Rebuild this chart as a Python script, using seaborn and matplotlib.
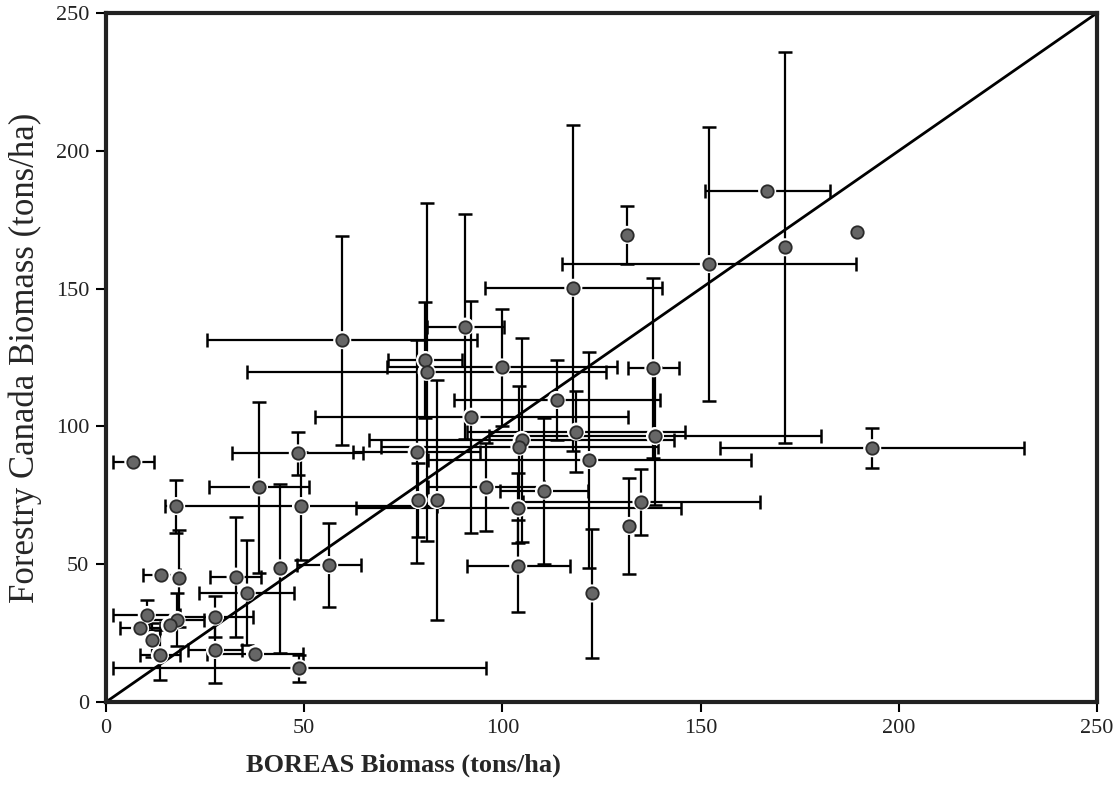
import pandas as pd
import seaborn as sns
import matplotlib.pyplot as plt

# values (tons/ha), error = +/- 1 SD
boreas = [6.9, 48.4, 38.6, 17.7, 49.2, 18.4, 14.0, 32.7, 43.9, 56.3,
          35.5, 27.5, 17.8, 16.1, 10.3, 8.6, 11.5, 13.6, 27.5, 37.6,
          48.8, 59.6, 117.9, 90.7, 80.5, 80.9, 99.8, 138.1, 113.7, 92.2,
          118.6, 138.5, 104.9, 104.3, 78.4, 121.9, 95.9, 78.8, 83.4, 104.0,
          110.5, 135.1, 132.0, 104.0, 122.5, 166.8, 131.4, 189.5, 171.3, 152.1,
          193.3]
forestry = [87.2, 90.2, 77.9, 71.1, 71.1, 44.9, 46.1, 45.5, 48.5, 49.7,
            39.7, 31.0, 29.8, 27.9, 31.6, 26.7, 22.5, 17.0, 18.9, 17.4,
            12.2, 131.3, 150.3, 136.2, 124.1, 119.8, 121.4, 121.1, 109.6, 103.5,
            98.1, 96.5, 95.1, 92.6, 90.8, 87.8, 77.9, 73.3, 73.3, 70.3,
            76.7, 72.7, 63.9, 49.5, 39.4, 185.5, 169.5, 170.6, 165.0, 158.9,
            92.1]
boreas_sd = [5.1, 16.5, 12.7, 0, 34.3, 0, 4.6, 6.5, 0, 8,
             12, 9.7, 7, 0, 8.5, 5.1, 0, 5, 6.7, 12,
             47, 34.1, 22.3, 9.6, 9.3, 45.3, 29, 6.5, 26, 39.5,
             27.5, 41.8, 38.5, 35, 16, 40.7, 14.6, 0, 0, 41,
             11.1, 30, 0, 13, 0, 15.8, 0, 0, 0, 37,
             38.3]
forestry_sd = [0, 7.9, 31, 9.6, 19.6, 17.5, 0, 21.8, 30.7, 15.4,
               19, 7.3, 9.6, 0, 5.4, 0, 6, 9, 12, 0,
               4.8, 37.9, 59.1, 40.8, 21.2, 61.4, 21.1, 32.6, 14.5, 42,
               14.8, 25, 37, 22, 40.5, 39.3, 16, 13.3, 43.5, 12.7,
               26.5, 12, 17.3, 16.7, 23.5, 0, 10.6, 0, 71, 49.6,
               7.3]

df = pd.DataFrame({"boreas": boreas, "forestry": forestry,
                   "boreas_sd": boreas_sd, "forestry_sd": forestry_sd})

sns.set_style("ticks")
plt.rcParams['font.family'] = ['Liberation Serif', 'DejaVu Serif']

fig = plt.figure(figsize=(11.19, 7.88), dpi=100)
ax = fig.add_axes([0.0947, 0.1091, 0.8856, 0.8744])

# 1:1 line
ax.plot([0, 250], [0, 250], color="black", lw=2, zorder=2)

# horizontal and vertical error bars
xb = df[df.boreas_sd > 0]
ax.errorbar(xb.boreas, xb.forestry, xerr=xb.boreas_sd, fmt="none",
            ecolor="black", elinewidth=1.6, capsize=5, capthick=1.8, zorder=1)
yb = df[df.forestry_sd > 0]
ax.errorbar(yb.boreas, yb.forestry, yerr=yb.forestry_sd, fmt="none",
            ecolor="black", elinewidth=1.6, capsize=5, capthick=1.8, zorder=1)

# white halo then grey dots
sns.scatterplot(data=df, x="boreas", y="forestry", s=170, color="white",
                edgecolor="none", ax=ax, zorder=3)
sns.scatterplot(data=df, x="boreas", y="forestry", s=80, color="#666666",
                edgecolor="#2a2a2a", linewidth=1.3, ax=ax, zorder=4)

ax.set_xlim(0, 250)
ax.set_ylim(0, 250)
ax.set_xticks(range(0, 251, 50))
ax.set_yticks(range(0, 251, 50))
ax.tick_params(labelsize=16, length=7, width=1.5, pad=5, color="black",
               labelcolor="#222222")
for s in ax.spines.values():
    s.set_linewidth(3)
    s.set_color("#222222")

ax.set_xlabel("BOREAS Biomass (tons/ha)", fontsize=19, fontweight="bold")
ax.xaxis.set_label_coords(0.30, -0.075)
ax.set_ylabel("Forestry Canada Biomass (tons/ha)", fontsize=25)
ax.yaxis.set_label_coords(-0.065, 0.5)

fig.savefig("out.png", dpi=100)
